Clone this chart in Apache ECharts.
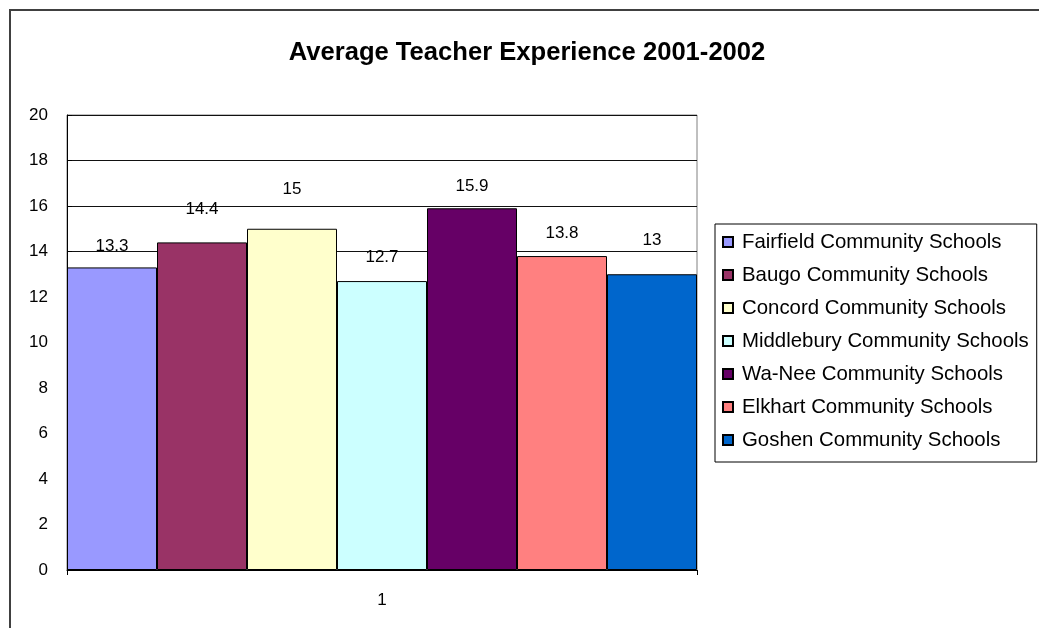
<!DOCTYPE html>
<html>
<head>
<meta charset="utf-8">
<script src="https://cdn.jsdelivr.net/npm/echarts@6/dist/echarts.min.js"></script>
<style>
  html, body { margin: 0; padding: 0; background: #fff; }
  #main { width: 1039px; height: 628px; }
</style>
</head>
<body>
<div id="main"></div>
<script>
// data
const categories = ['1'];
const schools = [
  'Fairfield Community Schools',
  'Baugo Community Schools',
  'Concord Community Schools',
  'Middlebury Community Schools',
  'Wa-Nee Community Schools',
  'Elkhart Community Schools',
  'Goshen Community Schools'
];
const experience = [13.3, 14.4, 15, 12.7, 15.9, 13.8, 13];
const colors = ['#9999FF', '#993366', '#FFFFCC', '#CCFFFF', '#660066', '#FF8080', '#0066CC'];

// the labels in the original sit at uneven heights, nudge them the same way
const labelLift = [0, 12, 18, 2, 0, 1, 12];

const font = 'Liberation Sans, Arial, sans-serif';

const chart = echarts.init(document.getElementById('main'));
chart.setOption({
    animation: false,
    backgroundColor: '#fff',
    title: {
        text: 'Average Teacher Experience 2001-2002',
        left: 522,
        top: 35,
        textAlign: 'center',
        textStyle: { fontFamily: font, fontSize: 25.6, fontWeight: 'bold', color: '#000' }
    },
    graphic: [{
        type: 'rect',
        shape: { x: 10, y: 10, width: 1100, height: 700 },
        style: { fill: 'none', stroke: '#404040', lineWidth: 2 },
        silent: true
    }],
    legend: {
        orient: 'vertical',
        left: 715,
        top: 224,
        padding: [8, 8, 12, 7],
        itemGap: 13,
        itemWidth: 10,
        itemHeight: 10,
        icon: 'rect',
        backgroundColor: '#fff',
        borderColor: '#000',
        borderWidth: 1,
        borderRadius: 0,
        textStyle: { fontFamily: font, fontSize: 20.4, lineHeight: 20, color: '#000', padding: [0, 0, 0, 4] },
        data: schools
    },
    grid: {
        left: 67,
        top: 115,
        right: 342,
        bottom: 58,
        show: true,
        borderColor: '#808080',
        borderWidth: 1
    },
    xAxis: {
        type: 'category',
        data: categories,
        axisLine: { lineStyle: { color: '#000', width: 1 } },
        axisTick: { show: true, length: 5, lineStyle: { color: '#000' } },
        axisLabel: { fontFamily: font, fontSize: 17, color: '#000', margin: 22 }
    },
    yAxis: {
        type: 'value',
        min: 0,
        max: 20,
        interval: 2,
        axisLine: { show: true, lineStyle: { color: '#000', width: 1 } },
        axisTick: { show: true, inside: true, length: 5, lineStyle: { color: '#000' } },
        axisLabel: { fontFamily: font, fontSize: 17, color: '#000', margin: 19 },
        splitLine: { show: true, lineStyle: { color: '#111', width: 1 } }
    },
    series: schools.map((name, i) => ({
        name: name,
        type: 'bar',
        barGap: '0%',
        barCategoryGap: '0%',
        data: [experience[i]],
        itemStyle: { color: colors[i], borderColor: '#000', borderWidth: 1 },
        label: {
            show: true,
            position: 'top',
            distance: 13 + labelLift[i],
            fontFamily: font,
            fontSize: 17,
            color: '#000'
        }
    }))
});
</script>
</body>
</html>
